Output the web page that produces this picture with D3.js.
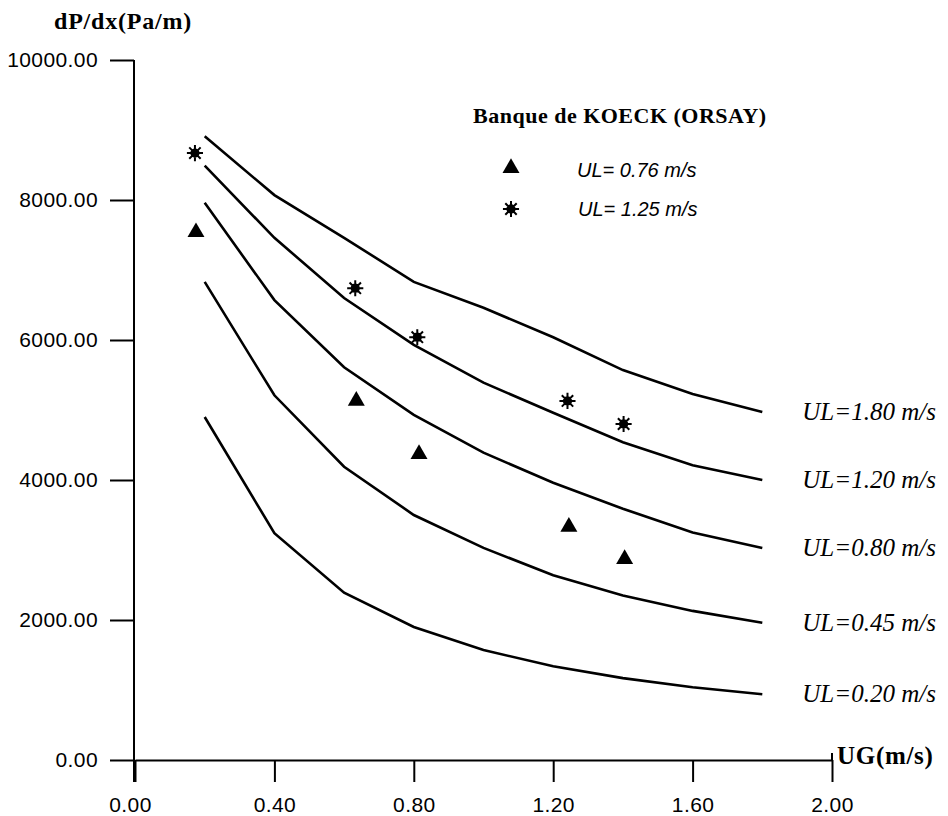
<!DOCTYPE html>
<html>
<head>
<meta charset="utf-8">
<script src="https://cdn.jsdelivr.net/npm/d3@7"></script>
<style>
  body { margin: 0; background: #fff; }
  svg { display: block; }
</style>
</head>
<body>
<svg width="948" height="816"></svg>
<script>
const svg = d3.select("svg");

// gas velocity UG (m/s) where the model curves are computed
const ugValues = [0.2, 0.4, 0.6, 0.8, 1.0, 1.2, 1.4, 1.6, 1.8];

// model curves dP/dx (Pa/m), one per liquid velocity
const curveLabels = ["UL=1.80 m/s", "UL=1.20 m/s", "UL=0.80 m/s", "UL=0.45 m/s", "UL=0.20 m/s"];
const ul180 = [8910, 8070, 7460, 6830, 6460, 6040, 5570, 5230, 4970];
const ul120 = [8490, 7460, 6600, 5930, 5390, 4960, 4540, 4210, 4000];
const ul080 = [7960, 6570, 5610, 4930, 4390, 3960, 3590, 3250, 3030];
const ul045 = [6830, 5210, 4190, 3500, 3030, 2640, 2350, 2130, 1960];
const ul020 = [4900, 3240, 2390, 1900, 1570, 1340, 1170, 1040, 940];
const curves = [ul180, ul120, ul080, ul045, ul020];

// measurements, Banque de KOECK (ORSAY)
const ugTri = [0.175, 0.635, 0.815, 1.245, 1.405];
const dpTri = [7540, 5130, 4370, 3330, 2870];   // UL = 0.76 m/s
const ugStar = [0.172, 0.632, 0.81, 1.241, 1.402];
const dpStar = [8670, 6740, 6040, 5130, 4800];  // UL = 1.25 m/s

const xMajor = [0, 0.4, 0.8, 1.2, 1.6, 2.0];
const xMinor = [0.2, 0.6, 1.0, 1.4, 1.8];
const yMajor = [0, 2000, 4000, 6000, 8000, 10000];
const yMinor = [1000, 3000, 5000, 7000, 9000];

const x = d3.scaleLinear().domain([0, 2]).range([135, 832]);
const y = d3.scaleLinear().domain([0, 10000]).range([760, 60]);

const tickFont = "'Liberation Sans', Arial, sans-serif";
const serif = "'Liberation Serif', 'Times New Roman', serif";

// y axis
const gy = svg.append("g").attr("transform", "translate(134,0)");
gy.call(d3.axisLeft(y).tickValues(yMinor).tickSize(14).tickSizeOuter(0).tickFormat(""));
gy.call(d3.axisLeft(y).tickValues(yMajor).tickSize(24).tickSizeOuter(0)
    .tickPadding(12).tickFormat(d3.format(".2f")));
gy.selectAll("path.domain").attr("d", `M0,${y(10000)}V782`);

// x axis
const gx = svg.append("g").attr("transform", "translate(0,760)");
gx.call(d3.axisBottom(x).tickValues(xMinor).tickSize(12).tickSizeOuter(0).tickFormat(""));
gx.call(d3.axisBottom(x).tickValues(xMajor).tickSize(22).tickSizeOuter(0)
    .tickPadding(15).tickFormat(d3.format(".2f")));
gx.append("line").attr("x1", x(2)).attr("x2", x(2)).attr("y1", -7).attr("y2", 0);
gx.selectAll(".tick text").attr("dx", (d, i) => i === 0 ? -5 : 0);

svg.selectAll(".tick line, path.domain, g > line")
  .attr("stroke", "#000").attr("stroke-width", 2);
svg.selectAll(".tick text")
  .attr("fill", "#000")
  .style("font-family", tickFont)
  .style("font-size", "21px")
  .style("letter-spacing", "0.4px");

// axis titles
svg.append("text")
  .attr("x", 54).attr("y", 29)
  .style("font-family", serif).style("font-weight", "bold")
  .style("font-size", "24px").style("letter-spacing", "0.8px")
  .text("dP/dx(Pa/m)");
svg.append("text")
  .attr("x", 837).attr("y", 764)
  .style("font-family", serif).style("font-weight", "bold")
  .style("font-size", "25px").style("letter-spacing", "0.7px")
  .text("UG(m/s)");

// model curves
const line = d3.line()
  .x((d, i) => x(ugValues[i]))
  .y(d => y(d));

svg.selectAll("path.curve")
  .data(curves)
  .enter()
  .append("path")
  .attr("class", "curve")
  .attr("d", line)
  .attr("fill", "none")
  .attr("stroke", "#000")
  .attr("stroke-width", 2.6);

svg.selectAll("text.curve-label")
  .data(curves)
  .enter()
  .append("text")
  .attr("class", "curve-label")
  .attr("x", x(1.8) + 40)
  .attr("y", d => y(d[d.length - 1]) + 8)
  .style("font-family", serif)
  .style("font-style", "italic")
  .style("font-size", "25px")
  .text((d, i) => curveLabels[i]);

// star marker: eight spokes round a filled centre
const starSymbol = {
  draw(context, size) {
    const r = Math.sqrt(size) / 2;
    for (let k = 0; k < 8; k++) {
      const a = k * Math.PI / 4;
      context.moveTo(0, 0);
      context.lineTo(r * Math.cos(a), r * Math.sin(a));
    }
    context.moveTo(r * 0.45, 0);
    context.arc(0, 0, r * 0.45, 0, 2 * Math.PI);
  }
};

function drawTriangle(g, cx, cy) {
  g.append("path")
    .attr("transform", `translate(${cx},${cy})`)
    .attr("d", d3.symbol(d3.symbolTriangle, 125)())
    .attr("fill", "#000");
}
function drawStar(g, cx, cy) {
  g.append("path")
    .attr("transform", `translate(${cx},${cy})`)
    .attr("d", d3.symbol(starSymbol, 260)())
    .attr("fill", "#000")
    .attr("stroke", "#000")
    .attr("stroke-width", 2);
}

const pts = svg.append("g");
ugTri.forEach((u, i) => drawTriangle(pts, x(u), y(dpTri[i])));
ugStar.forEach((u, i) => drawStar(pts, x(u), y(dpStar[i])));

// legend
svg.append("text")
  .attr("x", 473).attr("y", 123)
  .style("font-family", serif).style("font-weight", "bold")
  .style("font-size", "22px").style("letter-spacing", "0.5px")
  .text("Banque de KOECK (ORSAY)");

drawTriangle(svg, 511, 168);
drawStar(svg, 511, 209);

svg.append("text")
  .attr("x", 577).attr("y", 177)
  .style("font-family", tickFont).style("font-style", "italic")
  .style("font-size", "20px")
  .text("UL= 0.76 m/s");
svg.append("text")
  .attr("x", 578).attr("y", 216)
  .style("font-family", tickFont).style("font-style", "italic")
  .style("font-size", "20px")
  .text("UL= 1.25 m/s");
</script>
</body>
</html>
